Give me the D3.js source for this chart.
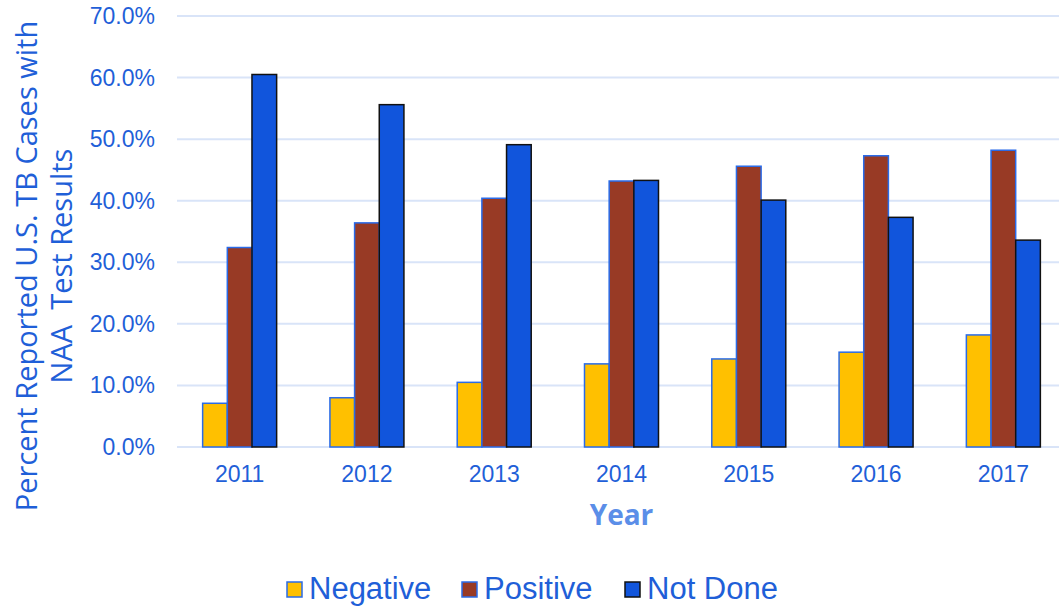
<!DOCTYPE html>
<html>
<head>
<meta charset="utf-8">
<script src="https://cdn.jsdelivr.net/npm/d3@7"></script>
<style>
body { margin: 0; background: #fff; }
</style>
</head>
<body>
<div id="chart"></div>
<script>
var years = ["2011", "2012", "2013", "2014", "2015", "2016", "2017"];
var seriesNames = ["Negative", "Positive", "Not Done"];
var negative = [7.1, 8.0, 10.5, 13.5, 14.3, 15.4, 18.2];
var positive = [32.4, 36.4, 40.4, 43.2, 45.6, 47.3, 48.2];
var notDone = [60.5, 55.6, 49.1, 43.3, 40.1, 37.3, 33.6];
var yTicks = [0, 10, 20, 30, 40, 50, 60, 70];

var WIDTH = 1059, HEIGHT = 607;
var TEXT_COLOR = "#1f5fd8";
var FILLS = ["#ffc000", "#983a25", "#1155dc"];
var STROKES = ["#2a6be8", "#2a6be8", "#111"];

var svg = d3.select("#chart").append("svg")
    .attr("width", WIDTH)
    .attr("height", HEIGHT);

var x = d3.scaleBand().domain(years).range([176, 1067]);
var y = d3.scaleLinear().domain([0, 70]).range([447, 16]);
var groupW = 74;
var xs = d3.scaleBand().domain(seriesNames).range([0, groupW]);

// gridlines
svg.append("g").selectAll("line")
    .data(yTicks)
    .enter()
    .append("line")
    .attr("x1", 177).attr("x2", WIDTH)
    .attr("y1", function(d) { return y(d); })
    .attr("y2", function(d) { return y(d); })
    .style("stroke", "#d9e4f8")
    .style("stroke-width", 2);

// y axis labels
svg.append("g").selectAll("text")
    .data(yTicks)
    .enter()
    .append("text")
    .attr("x", 155)
    .attr("y", function(d) { return y(d) + 8; })
    .attr("text-anchor", "end")
    .style("font-family", "Liberation Sans, Arial, sans-serif")
    .style("font-size", "23px")
    .style("fill", TEXT_COLOR)
    .text(function(d) { return d.toFixed(1) + "%"; });

// bars
var allSeries = [negative, positive, notDone];
var data = [];
years.forEach(function(yr, i) {
    seriesNames.forEach(function(s, j) {
        data.push({ year: yr, series: s, idx: j, value: allSeries[j][i] });
    });
});

svg.append("g").selectAll("rect")
    .data(data)
    .enter()
    .append("rect")
    .attr("x", function(d) { return x(d.year) + x.bandwidth() / 2 - groupW / 2 + xs(d.series); })
    .attr("y", function(d) { return y(d.value); })
    .attr("width", xs.bandwidth())
    .attr("height", function(d) { return y(0) - y(d.value); })
    .style("fill", function(d) { return FILLS[d.idx]; })
    .style("stroke", function(d) { return STROKES[d.idx]; })
    .style("stroke-width", 1.5);

// x labels
svg.append("g").selectAll("text")
    .data(years)
    .enter()
    .append("text")
    .attr("x", function(d) { return x(d) + x.bandwidth() / 2; })
    .attr("y", 482)
    .attr("text-anchor", "middle")
    .style("font-family", "Liberation Sans, Arial, sans-serif")
    .style("font-size", "23px")
    .style("fill", TEXT_COLOR)
    .text(function(d) { return d; });

// x title
svg.append("text")
    .attr("x", x("2014") + x.bandwidth() / 2)
    .attr("y", 525)
    .attr("text-anchor", "middle")
    .style("font-family", "Open Sans, sans-serif")
    .style("font-weight", "bold")
    .style("font-size", "28px")
    .style("fill", "#5b8ee8")
    .text("Year");

// y title
var yTitle = svg.append("text")
    .attr("transform", "translate(0,266) rotate(-90)")
    .attr("text-anchor", "middle")
    .style("font-family", "Open Sans, sans-serif")
    .style("font-size", "29px")
    .style("white-space", "pre")
    .style("fill", TEXT_COLOR);
yTitle.append("tspan").attr("x", 0).attr("y", 37).text("Percent Reported U.S. TB Cases with");
yTitle.append("tspan").attr("x", 0).attr("y", 72).text("NAA  Test Results");

// legend
var legendX = [287, 462, 625];
var legend = svg.append("g").selectAll("g")
    .data(seriesNames)
    .enter()
    .append("g")
    .attr("transform", function(d, i) { return "translate(" + legendX[i] + ",582)"; });

legend.append("rect")
    .attr("width", 15).attr("height", 15)
    .style("fill", function(d, i) { return FILLS[i]; })
    .style("stroke", function(d, i) { return STROKES[i]; })
    .style("stroke-width", 1.5);

legend.append("text")
    .attr("x", 22)
    .attr("y", 17)
    .style("font-family", "Liberation Sans, Arial, sans-serif")
    .style("font-size", "31px")
    .style("fill", TEXT_COLOR)
    .text(function(d) { return d; });
</script>
</body>
</html>
